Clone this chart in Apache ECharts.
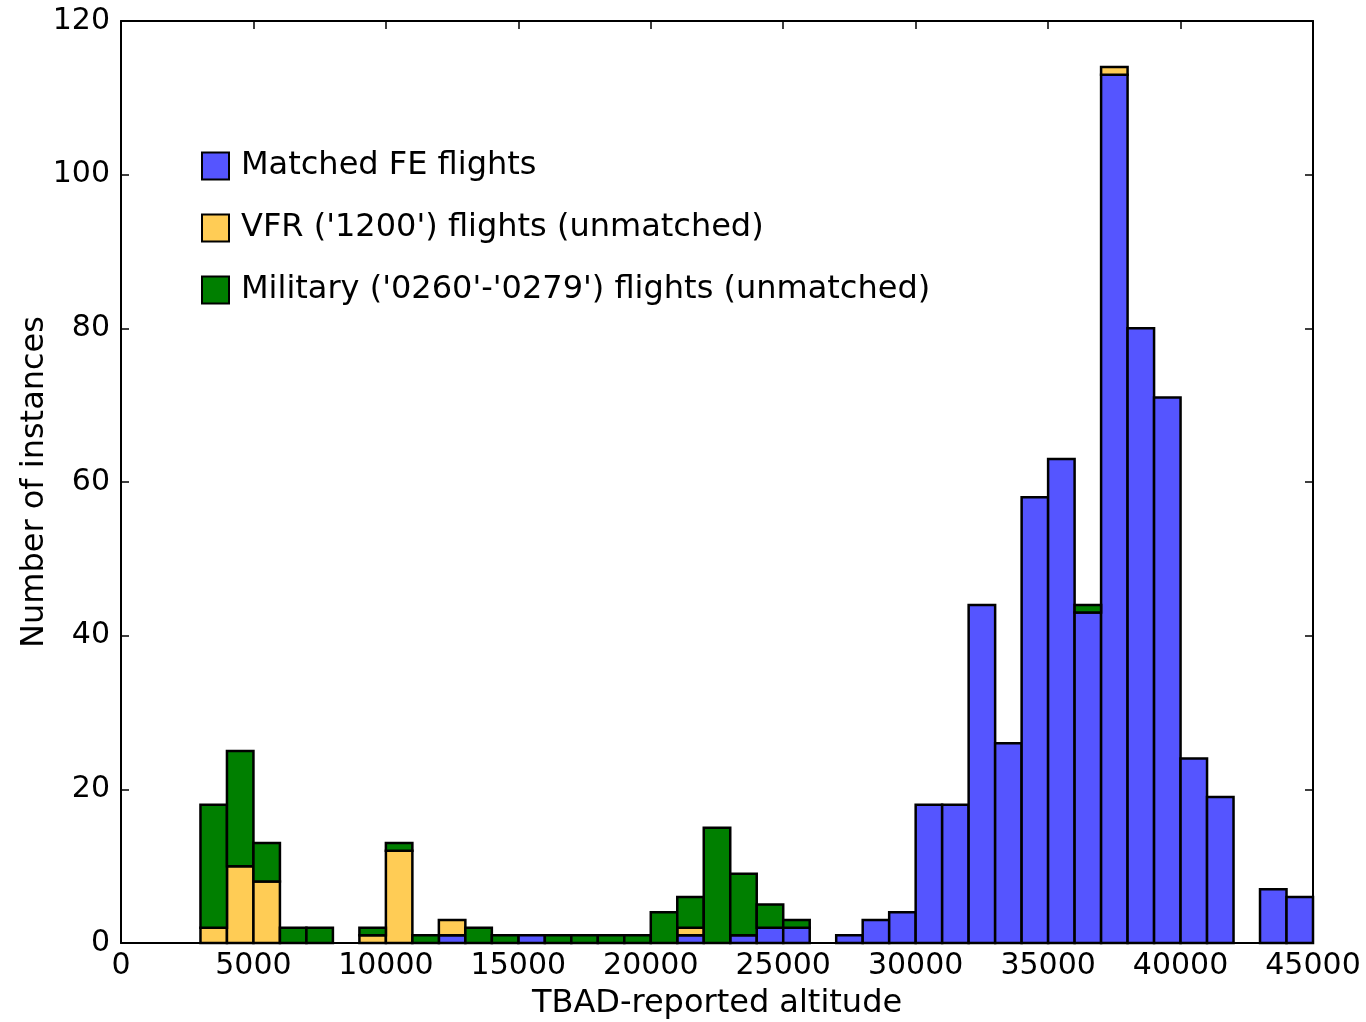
<!DOCTYPE html>
<html>
<head>
<meta charset="utf-8">
<title>TBAD-reported altitude histogram</title>
<script src="https://cdn.jsdelivr.net/npm/echarts@6/dist/echarts.min.js"></script>
<style>
  html, body { margin: 0; padding: 0; background: #fff; }
  #chart { width: 1366px; height: 1022px; }
</style>
</head>
<body>
<div id="chart"></div>
<script>
// Histogram bins are 1000 ft wide, starting at 0 ft; one count per bin.
const BIN_WIDTH = 1000;

// Matched FE flights per bin (0–45000 ft)
const matched = [
  0, 0, 0, 0, 0, 0, 0, 0, 0, 0,
  0, 0, 1, 0, 0, 1, 0, 0, 0, 0,
  0, 1, 0, 1, 2, 2, 0, 1, 3, 4,
  18, 18, 44, 26, 58, 63, 43, 113, 80, 71,
  24, 19, 0, 7, 6
];

// VFR ('1200') flights, unmatched
const vfr = [
  0, 0, 0, 2, 10, 8, 0, 0, 0, 1,
  12, 0, 2, 0, 0, 0, 0, 0, 0, 0,
  0, 1, 0, 0, 0, 0, 0, 0, 0, 0,
  0, 0, 0, 0, 0, 0, 0, 1, 0, 0,
  0, 0, 0, 0, 0
];

// Military ('0260'-'0279') flights, unmatched
const military = [
  0, 0, 0, 16, 15, 5, 2, 2, 0, 1,
  1, 1, 0, 2, 1, 0, 1, 1, 1, 1,
  4, 4, 15, 8, 3, 1, 0, 0, 0, 0,
  0, 0, 0, 0, 0, 0, 1, 0, 0, 0,
  0, 0, 0, 0, 0
];

const xTicks = { min: 0, max: 45000, interval: 5000 };
const yTicks = { min: 0, max: 120, interval: 20 };

const seriesDefs = [
  { name: 'Matched FE flights', color: '#5555ff', values: matched },
  { name: "VFR ('1200') flights (unmatched)", color: '#ffcc55', values: vfr },
  { name: "Military ('0260'-'0279') flights (unmatched)", color: '#007f00', values: military }
];

const FONT = 'DejaVu Sans';
const EDGE = 2.5;

// Stack the series: each segment is [x0, x1, yBottom, yTop]
const base = matched.map(() => 0);
const series = seriesDefs.map(def => {
  const data = [];
  def.values.forEach((v, i) => {
    const x0 = i * BIN_WIDTH;
    if (v > 0) data.push([x0, x0 + BIN_WIDTH, base[i], base[i] + v]);
    base[i] += v;
  });
  return {
    type: 'custom',
    name: def.name,
    itemStyle: { color: def.color, borderColor: '#000', borderWidth: 2 },
    encode: { x: [0, 1], y: [2, 3] },
    data: data,
    renderItem: (params, api) => {
      const p0 = api.coord([api.value(0), api.value(2)]);
      const p1 = api.coord([api.value(1), api.value(3)]);
      return {
        type: 'rect',
        shape: { x: p0[0], y: p1[1], width: p1[0] - p0[0], height: p0[1] - p1[1] },
        style: { fill: def.color, stroke: '#000', lineWidth: EDGE }
      };
    }
  };
});

const axisLine = { show: true, onZero: false, lineStyle: { color: '#000', width: 2 } };
const tickIn = { show: true, inside: true, length: 8, lineStyle: { color: '#000', width: 1.5 } };
const plain = v => String(v);

const chart = echarts.init(document.getElementById('chart'), null, { renderer: 'canvas' });
chart.setOption({
  animation: false,
  backgroundColor: '#fff',
  textStyle: { fontFamily: FONT },
  grid: { left: 121, right: 53, top: 21, bottom: 79, containLabel: false, outerBoundsMode: 'none' },
  legend: {
    orient: 'vertical',
    left: 196,
    top: 145,
    itemWidth: 27,
    itemHeight: 27,
    itemGap: 30,
    icon: 'rect',
    selectedMode: false,
    textStyle: { fontFamily: FONT, fontSize: 32, lineHeight: 30, color: '#000', padding: [0, 0, 0, 7] },
    data: seriesDefs.map(d => d.name)
  },
  xAxis: [
    {
      type: 'value', position: 'bottom',
      min: xTicks.min, max: xTicks.max, interval: xTicks.interval,
      axisLine: axisLine, axisTick: tickIn, splitLine: { show: false },
      axisLabel: { color: '#000', fontSize: 30, fontFamily: FONT, margin: 8, formatter: plain },
      name: 'TBAD-reported altitude', nameLocation: 'middle', nameGap: 45, nameMoveOverlap: false,
      nameTextStyle: { color: '#000', fontSize: 32, fontFamily: FONT }
    },
    {
      type: 'value', position: 'top',
      min: xTicks.min, max: xTicks.max, interval: xTicks.interval,
      axisLine: axisLine, axisTick: tickIn, splitLine: { show: false },
      axisLabel: { show: false }
    }
  ],
  yAxis: [
    {
      type: 'value', position: 'left',
      min: yTicks.min, max: yTicks.max, interval: yTicks.interval,
      axisLine: axisLine, axisTick: tickIn, splitLine: { show: false },
      axisLabel: { color: '#000', fontSize: 30, fontFamily: FONT, margin: 11, formatter: plain },
      name: 'Number of instances', nameLocation: 'middle', nameGap: 70, nameMoveOverlap: false,
      nameTextStyle: { color: '#000', fontSize: 32, fontFamily: FONT }
    },
    {
      type: 'value', position: 'right',
      min: yTicks.min, max: yTicks.max, interval: yTicks.interval,
      axisLine: axisLine, axisTick: tickIn, splitLine: { show: false },
      axisLabel: { show: false }
    }
  ],
  series: series
});
</script>
</body>
</html>
